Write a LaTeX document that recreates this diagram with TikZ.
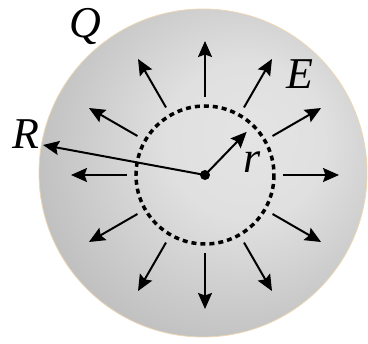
\documentclass[tikz,border=0pt]{standalone}
\usepackage{fontspec}
\setmainfont{Liberation Serif}
\usetikzlibrary{arrows.meta,calc}
\definecolor{ballin}{RGB}{228,228,228}
\definecolor{ballout}{RGB}{145,145,145}
\definecolor{fringe}{RGB}{236,214,180}
\pgfdeclareradialshading{ballshade}{\pgfpoint{8bp}{6bp}}{color(0bp)=(ballin); color(12bp)=(ballin!95!ballout); color(58bp)=(ballout); color(70bp)=(ballout)}
\tikzset{
  arr/.style={line width=2pt, -{Stealth[length=16pt,width=14pt,inset=2.5pt]}},
  lbl/.style={font=\fontsize{44}{44}\selectfont\itshape, inner sep=0pt},
  gauss/.style={line width=3.5pt, dash pattern=on 5pt off 4pt},
}
\begin{document}
\begin{tikzpicture}[x=1pt,y=-1pt]
\useasboundingbox (0,0) rectangle (368,344);
\coordinate (O) at (205,175);
\path[shading=ballshade, draw=fringe, line width=0.8pt] (203,173) circle[radius=164];
\draw[gauss] (O) circle[radius=69];
\foreach \a in {0,30,...,330}{
  \coordinate (s\a) at ($(O)+(\a:78)$);
  \coordinate (t\a) at ($(O)+(\a:134)$);
  \draw[arr] (s\a) -- (t\a);
}
\coordinate (Redge) at (43,145);
\draw[arr] (O) -- (Redge);
\coordinate (rtip) at ($(O)+(-46:60)$);
\draw[arr] (O) -- (rtip);
\fill (O) circle[radius=5];
\node[lbl] (Q) at (85,27) {Q};
\node[lbl] (R) at (26,134) {R};
\node[lbl] (E) at (300,74) {E};
\node[lbl] (r) at (252,162) {r};
\end{tikzpicture}
\end{document}
